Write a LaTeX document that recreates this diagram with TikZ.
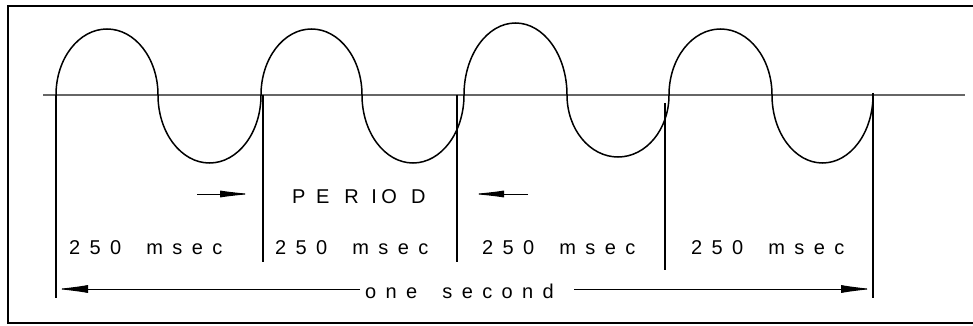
\documentclass[tikz,border=0pt]{standalone}
\usepackage{fontspec}
\setmainfont{Liberation Sans}
\usetikzlibrary{arrows.meta}
\newcommand{\tk}{\kern9.4pt}
\newcommand{\wordgap}{\kern25pt}

\begin{document}
\begin{tikzpicture}[x=1pt, y=1pt,
    wave/.style={line width=1.5pt},
    tick/.style={line width=1.8pt},
    dimarrow/.style={line width=1pt, -{Latex[length=32pt, width=8pt]}},
    lbl/.style={font=\fontsize{20}{24}\selectfont, inner sep=0pt, anchor=base west}]
    \useasboundingbox (0,-231) rectangle (973,95);

    % open frame and time axis
    \draw[line width=2.5pt] (973,89) -- (8,89) -- (8,-228) -- (973,-228);
    \draw[line width=1.5pt, black!60] (43,0) -- (965,0);

    % the wave, one half-cycle at a time
    \foreach \xa/\xb/\h/\e in {56/158/66/0, 158/261/68/360, 261/362/66/0, 362/464/68/360,
                               464/567/72/0, 567/669/62/360, 669/772/66/0, 772/873/68/360}
        \draw[wave] (\xa,0) arc[start angle=180, end angle=\e, x radius={(\xb-\xa)/2}, y radius=\h];

    \foreach \n/\x/\ya/\yb in {0/56/0/-203, 1/263/0/-167, 2/457/0/-167, 3/665/-8/-175, 4/873/2/-203} {
        \coordinate (t\n) at (\x,\ya);
        \coordinate (b\n) at (\x,\yb);
        \draw[tick] (t\n) -- (b\n);
    }

    \foreach \n/\x in {1/69, 2/275, 3/482, 4/691}
        \node[lbl] (msec\n) at (\x,-159) {2\tk5\tk0\wordgap m\tk s\tk e\tk c};

    \node[lbl] (period) at (292,-108)
        {P\hspace{10.7pt}E\hspace{14.7pt}R\hspace{12.6pt}I\hspace{4.4pt}O\hspace{14.4pt}D};
    \coordinate (pa) at (197,-99);
    \coordinate (pb) at (252,-99);
    \coordinate (pc) at (528,-99);
    \coordinate (pd) at (472,-99);
    \draw[dimarrow, -{Latex[length=32pt, width=7pt]}] (pa) -- (pb);
    \draw[dimarrow, -{Latex[length=32pt, width=7pt]}] (pc) -- (pd);

    \node[lbl] (sec) at (365,-203) {o\tk n\tk e\wordgap s\tk e\tk c\tk o\tk n\tk d};
    \coordinate (sl) at (360,-194);
    \coordinate (sr) at (574,-194);
    \draw[dimarrow] (sl) -- (b0 |- sl);
    \draw[dimarrow] (sr) -- (b4 |- sr);
\end{tikzpicture}
\end{document}
